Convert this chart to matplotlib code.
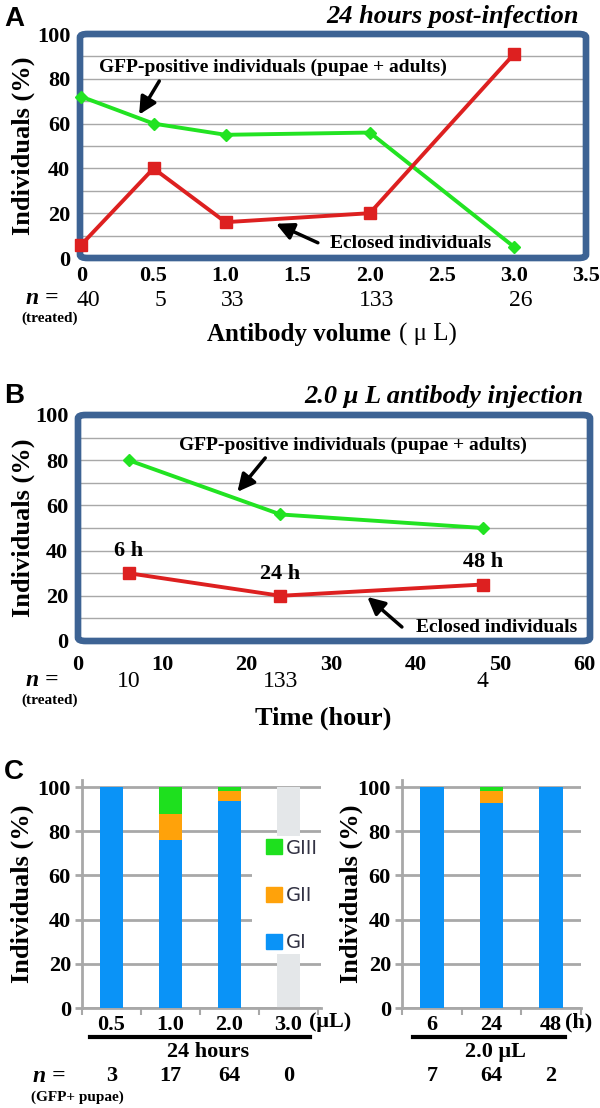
import matplotlib
matplotlib.use('Agg')
import matplotlib.pyplot as plt
from matplotlib.patches import FancyBboxPatch, Patch, Rectangle

# ---- data ----
# panel A: 24 h post-infection, by antibody volume
vol = [0, 0.5, 1.0, 2.0, 3.0]
gfp_a = [72, 60, 55, 56, 5]
eclosed_a = [6, 40, 16, 20, 91]
n_a = [40, 5, 33, 133, 26]

# panel B: 2.0 uL injection, by time
hours = [6, 24, 48]
gfp_b = [80, 56, 50]
eclosed_b = [30, 20, 25]
n_b = [10, 133, 4]
hour_labels = ['6 h', '24 h', '48 h']

# panel C: grades of GFP+ pupae
vol_cats = ['0.5', '1.0', '2.0', '3.0']
g1_vol = [100, 76, 93.5, 0]
g2_vol = [0, 12, 4.5, 0]
g3_vol = [0, 12, 2, 0]
empty_vol = [0, 0, 0, 100]
n_vol = [3, 17, 64, 0]

time_cats = ['6', '24', '48']
g1_time = [100, 93, 100]
g2_time = [0, 5, 0]
g3_time = [0, 2, 0]
n_time = [7, 64, 2]

W, H = 600, 1108
SERIF = 'Liberation Serif'
GREEN = '#22e322'
RED = '#dd2020'
FRAME = '#3d6394'
C_BLUE = '#0a93f7'
C_ORANGE = '#ffa20a'
C_GREEN = '#1ee01e'
C_GRAY = '#e4e7e9'
GRID = '#a8a8a8'

plt.rcParams['font.family'] = SERIF

fig = plt.figure(figsize=(W / 100, H / 100), dpi=100)


def box(left, top, right, bottom):
    return [left / W, 1 - bottom / H, (right - left) / W, (bottom - top) / H]


def ftext(x, y, s, **kw):
    fig.text(x / W, 1 - y / H, s, **kw)


def line_panel(ax, xs, gfp, ecl, xlim, xticks, xticklabels):
    ax.set_xlim(*xlim)
    ax.set_ylim(0, 100)
    ax.set_yticks(range(0, 101, 20))
    ax.set_yticks(range(0, 101, 10), minor=True)
    ax.set_xticks(xticks)
    ax.set_xticklabels(xticklabels)
    ax.grid(True, axis='y', which='both', color=GRID, lw=1.0, zorder=0)
    ax.tick_params(length=0, which='both', labelsize=16)
    ax.tick_params(axis='y', pad=7)
    for lab in ax.get_xticklabels() + ax.get_yticklabels():
        lab.set_fontweight('bold')
    for sp in ax.spines.values():
        sp.set_visible(False)
    ax.add_patch(FancyBboxPatch((0, 0), 1, 1, transform=ax.transAxes,
                                boxstyle='round,pad=0,rounding_size=0.015',
                                fc='none', ec=FRAME, lw=4.8, clip_on=False, zorder=5))
    ax.plot(xs, gfp, color=GREEN, lw=2.8, marker='D', ms=6, zorder=6, clip_on=False)
    ax.plot(xs, ecl, color=RED, lw=2.8, marker='s', ms=9, zorder=6, clip_on=False)
    ax.set_ylabel('Individuals (%)', fontsize=19, fontweight='bold')


arrow = dict(arrowstyle='-|>', color='black', lw=2.5, mutation_scale=26,
             shrinkA=0, shrinkB=0)

# ---------------- panel A ----------------
axA = fig.add_axes(box(80, 34, 586, 258))
line_panel(axA, vol, gfp_a, eclosed_a, (-0.01, 3.5),
           [0, 0.5, 1.0, 1.5, 2.0, 2.5, 3.0, 3.5],
           ['0', '0.5', '1.0', '1.5', '2.0', '2.5', '3.0', '3.5'])
axA.tick_params(axis='x', pad=6)
axA.yaxis.set_label_coords(-0.088, 0.5)
axA.text(1.33, 85, 'GFP-positive individuals (pupae + adults)', ha='center',
         va='center', fontsize=14, fontweight='bold', zorder=7)
axA.annotate('', xy=(0.40, 64), xytext=(0.54, 79), arrowprops=arrow, zorder=7)
axA.text(2.28, 6.3, 'Eclosed individuals', ha='center', va='center',
         fontsize=14, fontweight='bold', zorder=7)
axA.annotate('', xy=(1.35, 15.3), xytext=(1.64, 6.8), arrowprops=arrow, zorder=7)
for x, n in zip(vol, n_a):
    axA.text(x + 0.05, -0.19, str(n), transform=axA.get_xaxis_transform(),
             ha='center', va='center', fontsize=17)
ftext(14, 19, 'A', family='Liberation Sans', fontsize=20, fontweight='heavy',
      ha='center', va='center')
ftext(579, 17, '24 hours post-infection', ha='right', va='center', fontsize=19,
      fontweight='bold', style='italic')
ftext(42, 298, 'n =', ha='center', va='center', fontsize=17, fontweight='bold',
      style='italic')
ftext(50, 318, '(treated)', ha='center', va='center', fontsize=11, fontweight='bold')
ftext(397, 334, 'Antibody volume ', ha='right', va='center', fontsize=18,
      fontweight='bold')
ftext(399, 334, '( μ L)', ha='left', va='center', fontsize=18)

# ---------------- panel B ----------------
axB = fig.add_axes(box(78, 415, 590, 641))
line_panel(axB, hours, gfp_b, eclosed_b, (0, 60.7),
           list(range(0, 61, 10)), [str(v) for v in range(0, 61, 10)])
axB.tick_params(axis='x', pad=10)
axB.yaxis.set_label_coords(-0.084, 0.5)
axB.text(32.6, 86.7, 'GFP-positive individuals (pupae + adults)', ha='center',
         va='center', fontsize=14, fontweight='bold', zorder=7)
axB.annotate('', xy=(18.9, 66), xytext=(22.2, 81), arrowprops=arrow, zorder=7)
axB.text(59.2, 6, 'Eclosed individuals', ha='right', va='center',
         fontsize=14, fontweight='bold', zorder=7)
axB.annotate('', xy=(34.3, 19.5), xytext=(38.4, 6.2), arrowprops=arrow, zorder=7)
for x, y, lab in zip(hours, eclosed_b, hour_labels):
    axB.annotate(lab, (x, y), xytext=(0, 16), textcoords='offset points',
                 ha='center', va='center', fontsize=16, fontweight='bold', zorder=7)
for x, n in zip(hours, n_b):
    axB.text(x, -0.18, str(n), transform=axB.get_xaxis_transform(),
             ha='center', va='center', fontsize=17)
ftext(14, 396, 'B', family='Liberation Sans', fontsize=20, fontweight='heavy',
      ha='center', va='center')
ftext(583, 397, '2.0 μ L antibody injection', ha='right', va='center',
      fontsize=19, fontweight='bold', style='italic')
ftext(42, 680, 'n =', ha='center', va='center', fontsize=17, fontweight='bold',
      style='italic')
ftext(50, 700, '(treated)', ha='center', va='center', fontsize=11, fontweight='bold')
ftext(323, 718, 'Time (hour)', ha='center', va='center', fontsize=19,
      fontweight='bold')


# ---------------- panel C ----------------
def bar_panel(ax, cats, g1, g2, g3, nvals, xmax):
    xs = list(range(len(cats)))
    ax.set_xlim(-0.5, xmax)
    ax.set_ylim(0, 103.2)
    ax.bar(xs, g1, width=0.4, color=C_BLUE, zorder=3)
    ax.bar(xs, g2, width=0.4, bottom=g1, color=C_ORANGE, zorder=3)
    b3 = [a + b for a, b in zip(g1, g2)]
    ax.bar(xs, g3, width=0.4, bottom=b3, color=C_GREEN, zorder=3)
    ax.set_yticks(range(0, 101, 20))
    ax.grid(True, axis='y', color=GRID, lw=2, zorder=0)
    ax.set_xticks(xs)
    ax.set_xticklabels(cats)
    ax.set_xticks([x - 0.5 for x in range(len(cats) + 1)], minor=True)
    ax.tick_params(axis='x', which='major', length=0, pad=5, labelsize=16)
    ax.tick_params(axis='x', which='minor', length=5, width=1.5, color=GRID)
    ax.tick_params(axis='y', length=5, width=2, color=GRID, labelsize=16, pad=3)
    for lab in ax.get_xticklabels() + ax.get_yticklabels():
        lab.set_fontweight('bold')
    for s in ('top', 'right'):
        ax.spines[s].set_visible(False)
    for s in ('left', 'bottom'):
        ax.spines[s].set_color(GRID)
        ax.spines[s].set_linewidth(2)
    ax.set_ylabel('Individuals (%)', fontsize=19, fontweight='bold')
    for x, n in zip(xs, nvals):
        ax.text(x, -0.30, str(n), transform=ax.get_xaxis_transform(),
                ha='center', va='center', fontsize=16, fontweight='bold')
    return xs


axC1 = fig.add_axes(box(82, 780, 321, 1008))
xs1 = bar_panel(axC1, vol_cats, g1_vol, g2_vol, g3_vol, n_vol, 3.55)
axC1.bar(xs1, empty_vol, width=0.4, color=C_GRAY, zorder=2)
axC1.add_patch(Rectangle((2.38, 24.5), 1.3, 53.5, fc='white', ec='none',
                         zorder=4, clip_on=False))
handles = [Patch(color=C_GREEN), Patch(color=C_ORANGE), Patch(color=C_BLUE)]
leg = axC1.legend(handles, ['GIII', 'GII', 'GI'], loc='center left',
                  bbox_to_anchor=(2.46, 51), bbox_transform=axC1.transData,
                  frameon=False, handlelength=0.8, handleheight=0.8,
                  handletextpad=0.2, labelspacing=1.45, borderpad=0,
                  prop={'family': 'DejaVu Sans', 'size': 14})
leg.set_zorder(6)
for t in leg.get_texts():
    t.set_color('#333344')
axC1.yaxis.set_label_coords(-0.2, 0.5)
axC1.plot([-0.37, 3.37], [-0.127, -0.127], color='black', lw=3,
          transform=axC1.get_xaxis_transform(), clip_on=False)
axC1.text(1.64, -0.195, '24 hours', transform=axC1.get_xaxis_transform(),
          ha='center', va='center', fontsize=16, fontweight='bold')

axC2 = fig.add_axes(box(402, 780, 581, 1008))
bar_panel(axC2, time_cats, g1_time, g2_time, g3_time, n_time, 2.5)
axC2.yaxis.set_label_coords(-0.22, 0.5)
axC2.plot([-0.32, 2.24], [-0.127, -0.127], color='black', lw=3,
          transform=axC2.get_xaxis_transform(), clip_on=False)
axC2.text(1.06, -0.195, '2.0 μL', transform=axC2.get_xaxis_transform(),
          ha='center', va='center', fontsize=16, fontweight='bold')

ftext(14, 772, 'C', family='Liberation Sans', fontsize=20, fontweight='heavy',
      ha='center', va='center')
ftext(309, 1022, '(μL)', ha='left', va='center', fontsize=16, fontweight='bold')
ftext(565, 1022, '(h)', ha='left', va='center', fontsize=16, fontweight='bold')
ftext(49, 1077, 'n =', ha='center', va='center', fontsize=17, fontweight='bold',
      style='italic')
ftext(77, 1097, '(GFP+ pupae)', ha='center', va='center', fontsize=11,
      fontweight='bold')

fig.savefig('out.png', dpi=100)
